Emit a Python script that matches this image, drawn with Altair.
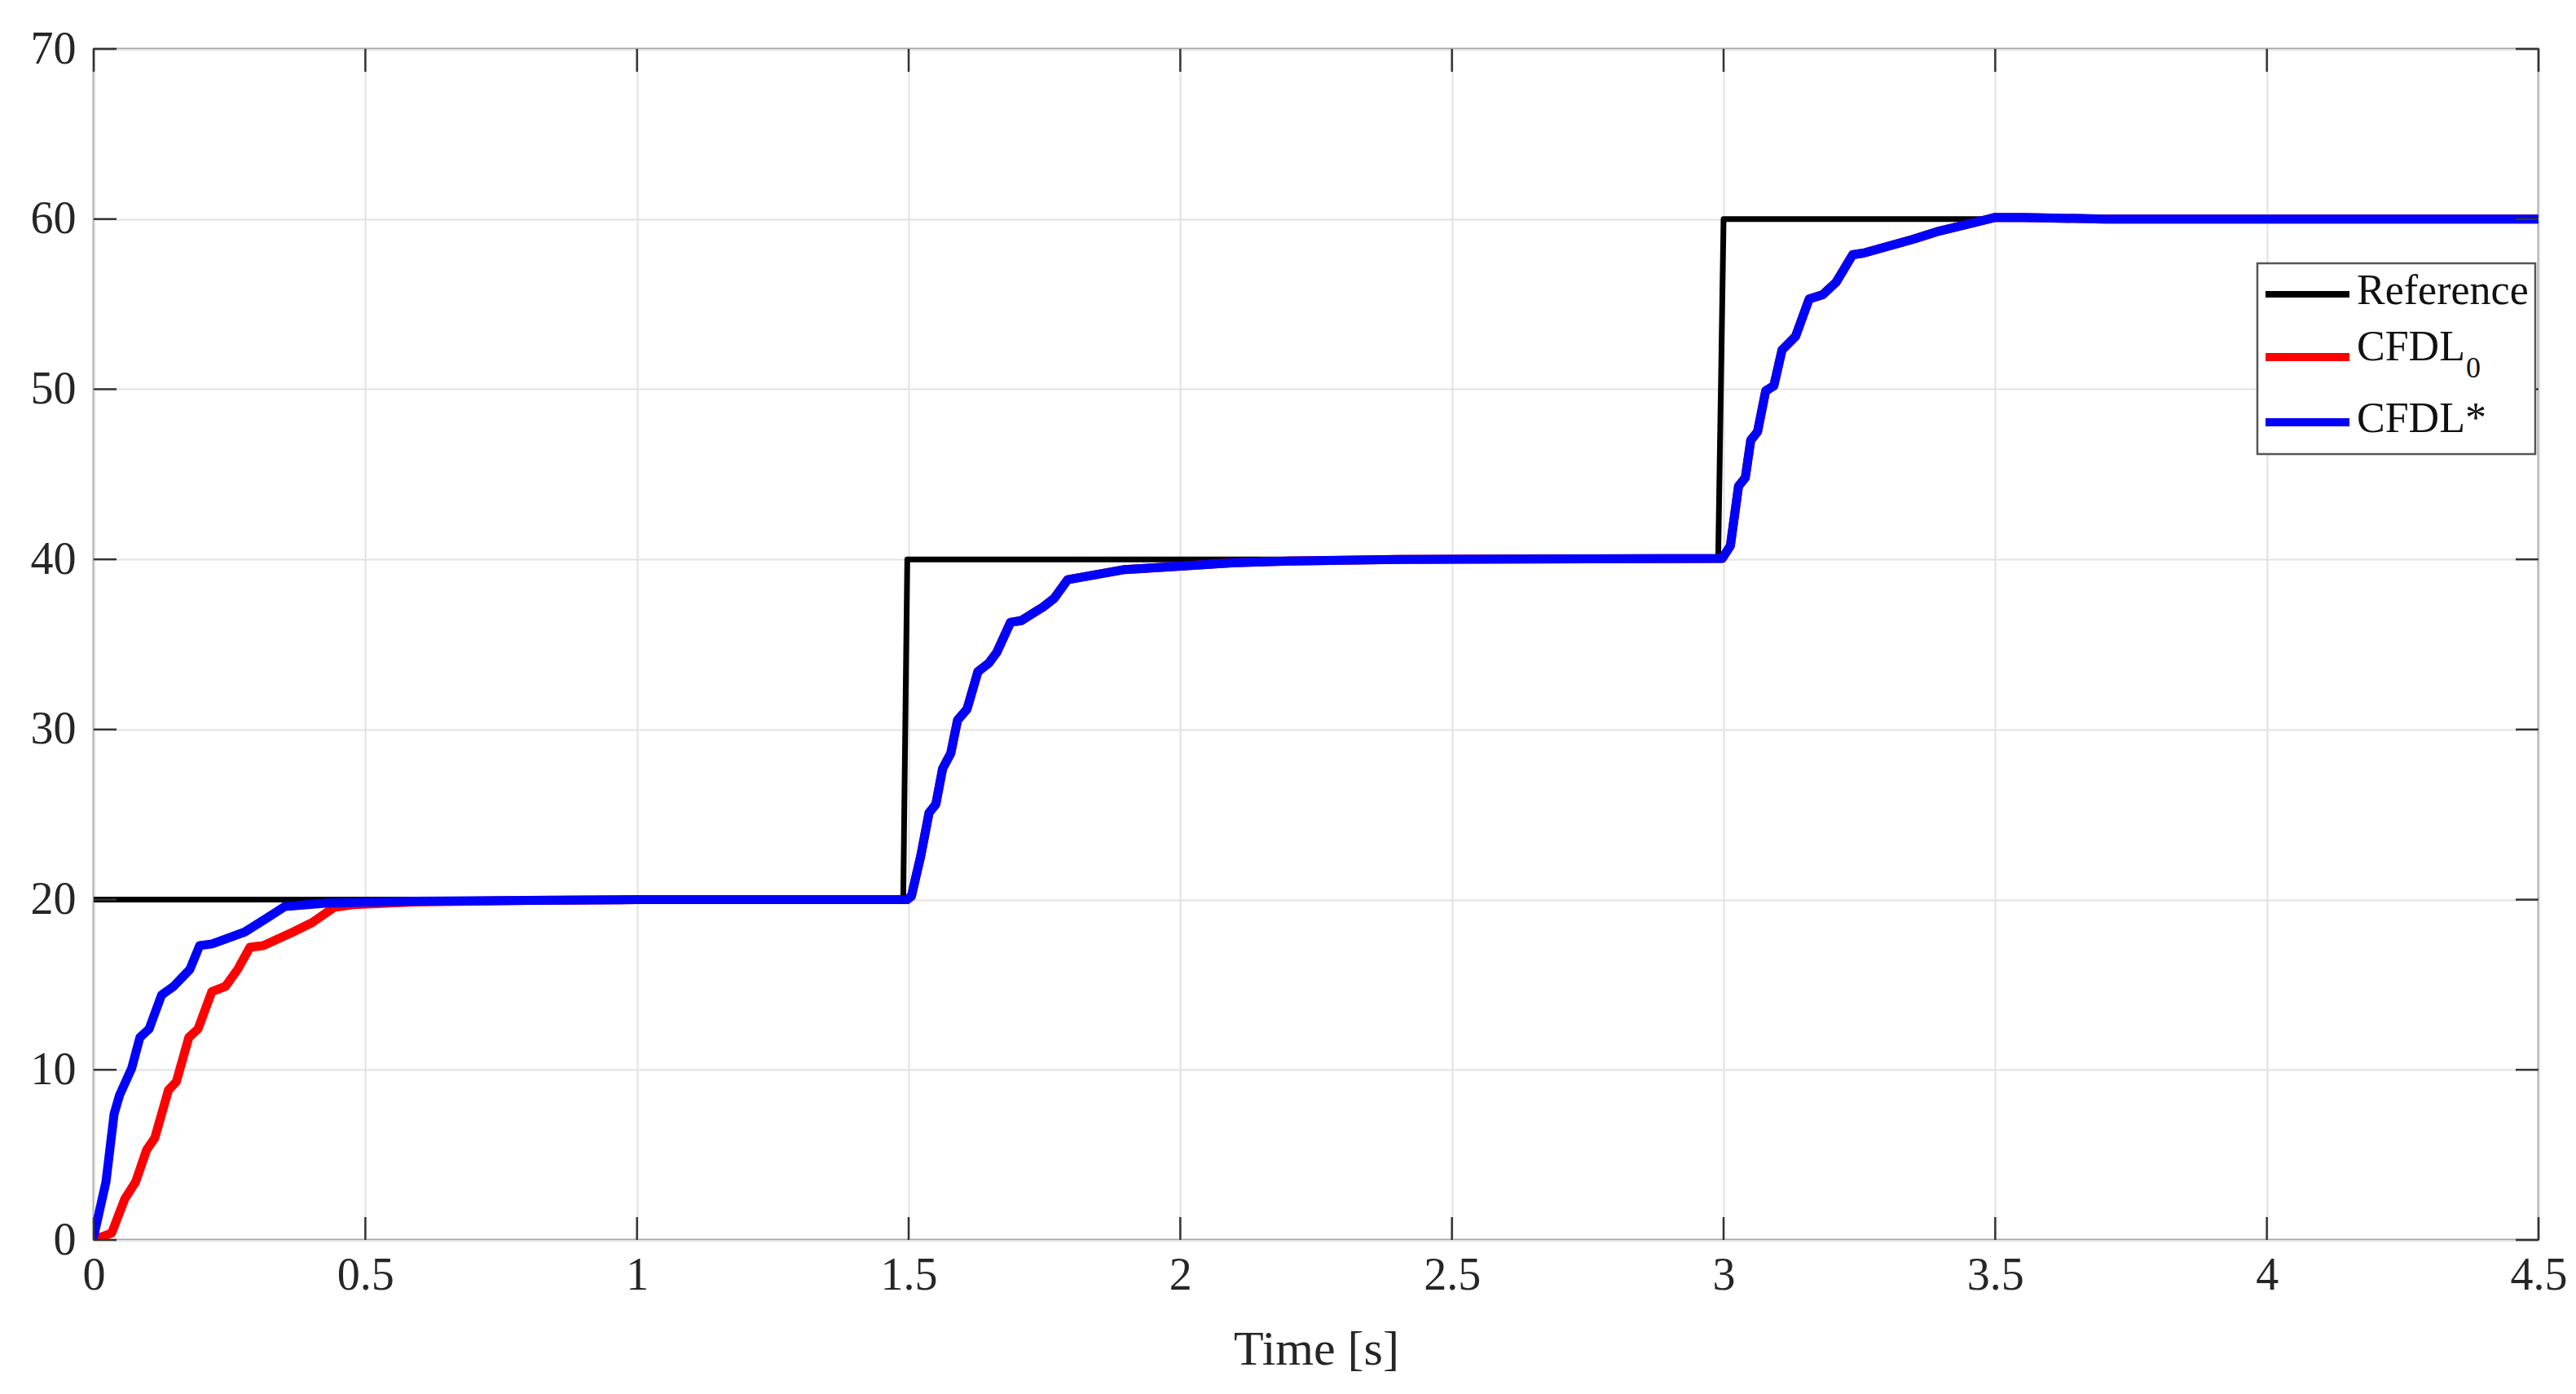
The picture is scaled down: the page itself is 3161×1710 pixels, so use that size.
import altair as alt
import pandas as pd

# ---- data ----
x_ticks = [0, 0.5, 1, 1.5, 2, 2.5, 3, 3.5, 4, 4.5]
y_ticks = [0, 10, 20, 30, 40, 50, 60, 70]

series_names = ["Reference", "CFDL0", "CFDL*"]
series_colors = ["#000000", "#ff0000", "#0000ff"]

ref_t = [0, 1.49, 1.4975, 2.99, 3.0, 4.5]
ref_v = [20, 20, 40, 40, 60, 60]

cfdl_star_t = [0, 0.0225, 0.0375, 0.0475, 0.07, 0.085, 0.102, 0.125, 0.147, 0.177, 0.195,
               0.218, 0.278, 0.318, 0.352, 0.43, 0.58, 0.8, 1.0, 1.497, 1.505, 1.5225,
               1.5375, 1.55, 1.5625, 1.5775, 1.59, 1.6075, 1.6275, 1.6475, 1.6625, 1.6875,
               1.7075, 1.7475, 1.7675, 1.7925, 1.8975, 2.0, 2.1, 2.2, 2.4, 2.9975, 3.0125,
               3.0275, 3.04, 3.05, 3.0625, 3.0775, 3.0925, 3.1075, 3.1325, 3.1575, 3.1825,
               3.2075, 3.2375, 3.2575, 3.3475, 3.3975, 3.45, 3.5, 3.55, 3.7, 4.5]
cfdl_star_v = [0.2, 3.4, 7.4, 8.5, 10.1, 11.9, 12.4, 14.4, 14.9, 15.9, 17.3,
               17.4, 18.1, 18.9, 19.6, 19.8, 19.9, 19.95, 20.0, 20.0, 20.2, 22.6,
               25.1, 25.6, 27.7, 28.6, 30.55, 31.2, 33.4, 33.9, 34.55, 36.3,
               36.4, 37.2, 37.7, 38.8, 39.4, 39.6, 39.8, 39.9, 40.0, 40.05, 40.8,
               44.3, 44.8, 47.0, 47.5, 49.9, 50.2, 52.3, 53.1, 55.3, 55.55,
               56.3, 57.9, 58.0, 58.8, 59.3, 59.7, 60.1, 60.1, 60.0, 60.0]

cfdl0_t = [0, 0.033, 0.057, 0.077, 0.0975, 0.1125, 0.1375, 0.152, 0.175, 0.192, 0.2175,
           0.2425, 0.265, 0.2875, 0.312, 0.367, 0.402, 0.4425, 0.477, 0.58, 0.8, 1.0,
           1.497, 1.505, 1.5225, 1.5375, 1.55, 1.5625, 1.5775, 1.59, 1.6075, 1.6275,
           1.6475, 1.6625, 1.6875, 1.7075, 1.7475, 1.7675, 1.7925, 1.8975, 2.0, 2.1,
           2.2, 2.4, 2.9975, 3.0125, 3.0275, 3.04, 3.05, 3.0625, 3.0775, 3.0925, 3.1075,
           3.1325, 3.1575, 3.1825, 3.2075, 3.2375, 3.2575, 3.3475, 3.3975, 3.45, 3.5,
           3.55, 3.7, 4.5]
cfdl0_v = [0, 0.4, 2.4, 3.4, 5.3, 6.0, 8.8, 9.3, 11.9, 12.4, 14.6,
           14.9, 15.9, 17.2, 17.3, 18.1, 18.65, 19.55, 19.7, 19.85, 19.95, 20.0,
           20.0, 20.2, 22.6, 25.1, 25.6, 27.7, 28.6, 30.55, 31.2, 33.4,
           33.9, 34.55, 36.3, 36.4, 37.2, 37.7, 38.8, 39.4, 39.6, 39.8,
           39.9, 40.0, 40.05, 40.8, 44.3, 44.8, 47.0, 47.5, 49.9, 50.2, 52.3,
           53.1, 55.3, 55.55, 56.3, 57.9, 58.0, 58.8, 59.3, 59.7, 60.1,
           60.1, 60.0, 60.0]

# ---- layout / style ----
W, H = 3000, 1461
FONT = "Liberation Serif"
TICK_LEN = 28

xs = alt.Scale(domain=[0, 4.5], nice=False, zero=False)
ys = alt.Scale(domain=[0, 70], nice=False, zero=False)

x_axis = alt.Axis(values=x_ticks, format="~g", tickSize=0, domain=False, grid=True,
                  gridColor="#e2e2e2", gridWidth=2, labelFont=FONT, labelFontSize=56,
                  labelColor="#262626", labelPadding=16, labelFlush=False,
                  title="Time [s]", titleFont=FONT, titleFontSize=60,
                  titleFontWeight="normal", titleColor="#262626", titlePadding=34)
y_axis = alt.Axis(values=y_ticks, tickSize=0, domain=False, grid=True,
                  gridColor="#e2e2e2", gridWidth=2, labelFont=FONT, labelFontSize=56,
                  labelColor="#262626", labelPadding=22, labelFlush=False, title=None)


def line_layer(t, v, color, width):
    df = pd.DataFrame({"t": t, "v": v})
    return alt.Chart(df).mark_line(color=color, strokeWidth=width, strokeJoin="round",
                                   strokeCap="round", clip=True).encode(
        x=alt.X("t:Q", scale=xs, axis=x_axis),
        y=alt.Y("v:Q", scale=ys, axis=y_axis),
    )


ref_line = line_layer(ref_t, ref_v, series_colors[0], 7)
red_line = line_layer(cfdl0_t, cfdl0_v, series_colors[1], 11)
blue_line = line_layer(cfdl_star_t, cfdl_star_v, series_colors[2], 11)

xt = pd.DataFrame({"t": x_ticks})
yt = pd.DataFrame({"v": y_ticks})
tick_style = dict(color="#333333", strokeWidth=2.5)
xt_bottom = alt.Chart(xt).mark_rule(**tick_style).encode(
    x=alt.X("t:Q", scale=xs), y=alt.value(H), y2=alt.value(H - TICK_LEN))
xt_top = alt.Chart(xt).mark_rule(**tick_style).encode(
    x=alt.X("t:Q", scale=xs), y=alt.value(0), y2=alt.value(TICK_LEN))
yt_left = alt.Chart(yt).mark_rule(**tick_style).encode(
    y=alt.Y("v:Q", scale=ys), x=alt.value(0), x2=alt.value(TICK_LEN))
yt_right = alt.Chart(yt).mark_rule(**tick_style).encode(
    y=alt.Y("v:Q", scale=ys), x=alt.value(W - TICK_LEN), x2=alt.value(W))

# ---- legend (drawn manually, MATLAB style) ----
one = alt.Data(values=[{"k": 0}])
legend_box = alt.Chart(one).mark_rect(fill="white", stroke="#555555", strokeWidth=2.5).encode(
    x=alt.value(2655), x2=alt.value(2996), y=alt.value(263), y2=alt.value(497))

row_y = [301, 378, 458]
row_base = [313, 382, 470]
legend_layers = [legend_box]
for i, (name, col) in enumerate(zip(series_names, series_colors)):
    sw = 8 if i == 0 else 10
    legend_layers.append(
        alt.Chart(one).mark_rule(color=col, strokeWidth=sw).encode(
            x=alt.value(2665), x2=alt.value(2768), y=alt.value(row_y[i])))
    label = "CFDL" if name == "CFDL0" else name
    legend_layers.append(
        alt.Chart(alt.Data(values=[{"name": label}])).mark_text(
            font=FONT, fontSize=52, color="#111111", align="left",
            baseline="alphabetic").encode(
            x=alt.value(2777), y=alt.value(row_base[i]), text=alt.Text("name:N")))
    if name == "CFDL0":
        legend_layers.append(
            alt.Chart(alt.Data(values=[{"name": "0"}])).mark_text(
                font=FONT, fontSize=36, color="#111111", align="left",
                baseline="alphabetic").encode(
                x=alt.value(2911), y=alt.value(row_base[i] + 21), text=alt.Text("name:N")))

chart = alt.layer(
    ref_line, red_line, blue_line, xt_bottom, xt_top, yt_left, yt_right, *legend_layers
).properties(
    width=W, height=H,
    autosize=alt.AutoSizeParams(type="none"),
    padding={"left": 107, "top": 52, "right": 38, "bottom": 170},
    background="white",
).configure_view(stroke="#666666", strokeWidth=2.5)

chart.save("out.html", embed_options={"renderer": "svg", "actions": False})
